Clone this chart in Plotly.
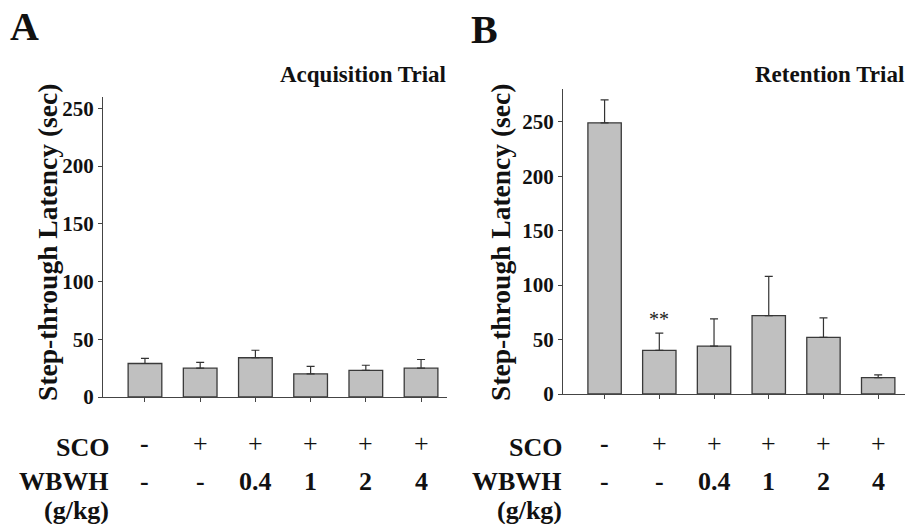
import plotly.graph_objects as go

# ---- data ----
groups = ["G1", "G2", "G3", "G4", "G5", "G6"]
sco_labels = ["-", "+", "+", "+", "+", "+"]
wbwh_labels = ["-", "-", "0.4", "1", "2", "4"]

acq_mean = [29, 25, 34, 20, 23, 25]
acq_sem = [4.5, 5, 6.5, 6.5, 4.5, 7.5]

ret_mean = [249, 40, 44, 72, 52, 15]
ret_sem = [21, 16, 25, 36, 18, 2.5]

acq_ticks = [0, 50, 100, 150, 200, 250]
ret_ticks = [0, 50, 100, 150, 200, 250]

FONT = "Times New Roman, Liberation Serif, Times, serif"
W, H = 905, 535
VS = 0.98  # vertical compensation observed in the rendered capture


def py(px):
    return 1 - px / (H * VS)


fig = go.Figure()

bar_style = dict(marker=dict(color="#c0c0c0", line=dict(color="#3a3a3a", width=1.3)),
                 width=0.61, showlegend=False, hoverinfo="skip")
err_common = dict(type="data", symmetric=False, arrayminus=[0] * 6,
                  color="#333333", thickness=1.2, width=4)

fig.add_trace(go.Bar(x=groups, y=acq_mean, xaxis="x", yaxis="y",
                     error_y=dict(array=acq_sem, **err_common), **bar_style))
fig.add_trace(go.Bar(x=groups, y=ret_mean, xaxis="x2", yaxis="y2",
                     error_y=dict(array=ret_sem, **err_common), **bar_style))

ax_common = dict(showline=True, linecolor="#444444", linewidth=1.3, showgrid=False,
                 zeroline=False, ticks="outside", ticklen=4, tickcolor="#444444",
                 tickwidth=1)

fig.update_layout(
    width=W, height=H,
    margin=dict(l=0, r=0, t=0, b=0),
    paper_bgcolor="white", plot_bgcolor="white",
    font=dict(family=FONT),
    bargap=0.39,
    xaxis=dict(domain=[103 / W, 447 / W], range=[-0.76, 5.47], type="category",
               categoryorder="array", categoryarray=groups,
               showticklabels=False, anchor="y", **ax_common),
    yaxis=dict(domain=[py(398), py(97)], range=[0, 260], tickvals=acq_ticks,
               tickfont=dict(family=FONT, size=21, color="#111111", weight="bold"),
               anchor="x", **ax_common),
    xaxis2=dict(domain=[563 / W, 1.0], range=[-0.76, 5.49], type="category",
                categoryorder="array", categoryarray=groups,
                showticklabels=False, anchor="y2", **ax_common),
    yaxis2=dict(domain=[py(395), py(89.3)], range=[0, 280], tickvals=ret_ticks,
                tickfont=dict(family=FONT, size=21, color="#111111", weight="bold"),
                anchor="x2", **ax_common),
)

ann = []


def txt(text, x, y, size, xanchor="center", yanchor="middle", xref="paper", angle=0, color="#111111"):
    ann.append(dict(text=text, x=x, y=y, xref=xref, yref="paper", showarrow=False,
                    xanchor=xanchor, yanchor=yanchor, textangle=angle,
                    font=dict(family=FONT, size=size, color=color)))


# panel letters
txt("<b>A</b>", 24 / W, py(27), 40)
txt("<b>B</b>", 485 / W, py(30), 40)

# panel titles
txt("<b>Acquisition Trial</b>", 448 / W, py(75), 23, xanchor="right")
txt("<b>Retention Trial</b>", 906 / W, py(75), 23, xanchor="right")

# y-axis titles
txt("<b>Step-through Latency (sec)</b>", 47.5 / W, py(243), 27.5, angle=-90)
txt("<b>Step-through Latency (sec)</b>", 500.5 / W, py(243), 27.5, angle=-90)

# treatment table
for xref, label_right in (("x", 111), ("x2", 564)):
    txt("<b>SCO</b>", label_right / W, py(449), 26, xanchor="right")
    txt("<b>WBWH</b>", label_right / W, py(483), 26, xanchor="right")
    txt("<b>(g/kg)</b>", label_right / W, py(512), 26, xanchor="right")
    for g, s, w in zip(groups, sco_labels, wbwh_labels):
        ann.append(dict(text=f"<b>{s}</b>" if s == "-" else s, x=g, y=py(445), xref=xref, yref="paper",
                        showarrow=False, xanchor="center", yanchor="middle",
                        font=dict(family=FONT, size=26, color="#111111")))
        ann.append(dict(text=f"<b>{w}</b>", x=g, y=py(483), xref=xref, yref="paper",
                        showarrow=False, xanchor="center", yanchor="middle",
                        font=dict(family=FONT, size=26, color="#111111")))

# significance mark
ann.append(dict(text="**", x=groups[1], y=ret_mean[1] + ret_sem[1], xref="x2", yref="y2",
                showarrow=False, xanchor="center", yanchor="bottom", yshift=1,
                font=dict(family=FONT, size=20, color="#222222")))

fig.update_layout(annotations=ann)

post = (
    "var d=document.documentElement,b=document.body;"
    "d.style.margin='0';d.style.padding='0';d.style.overflow='hidden';"
    "b.style.margin='0';b.style.padding='0';b.style.overflow='hidden';"
    "Array.prototype.forEach.call(b.children,function(c){c.style.margin='0';});"
)
fig.write_html("out.html", post_script=post, config={"displayModeBar": False})
